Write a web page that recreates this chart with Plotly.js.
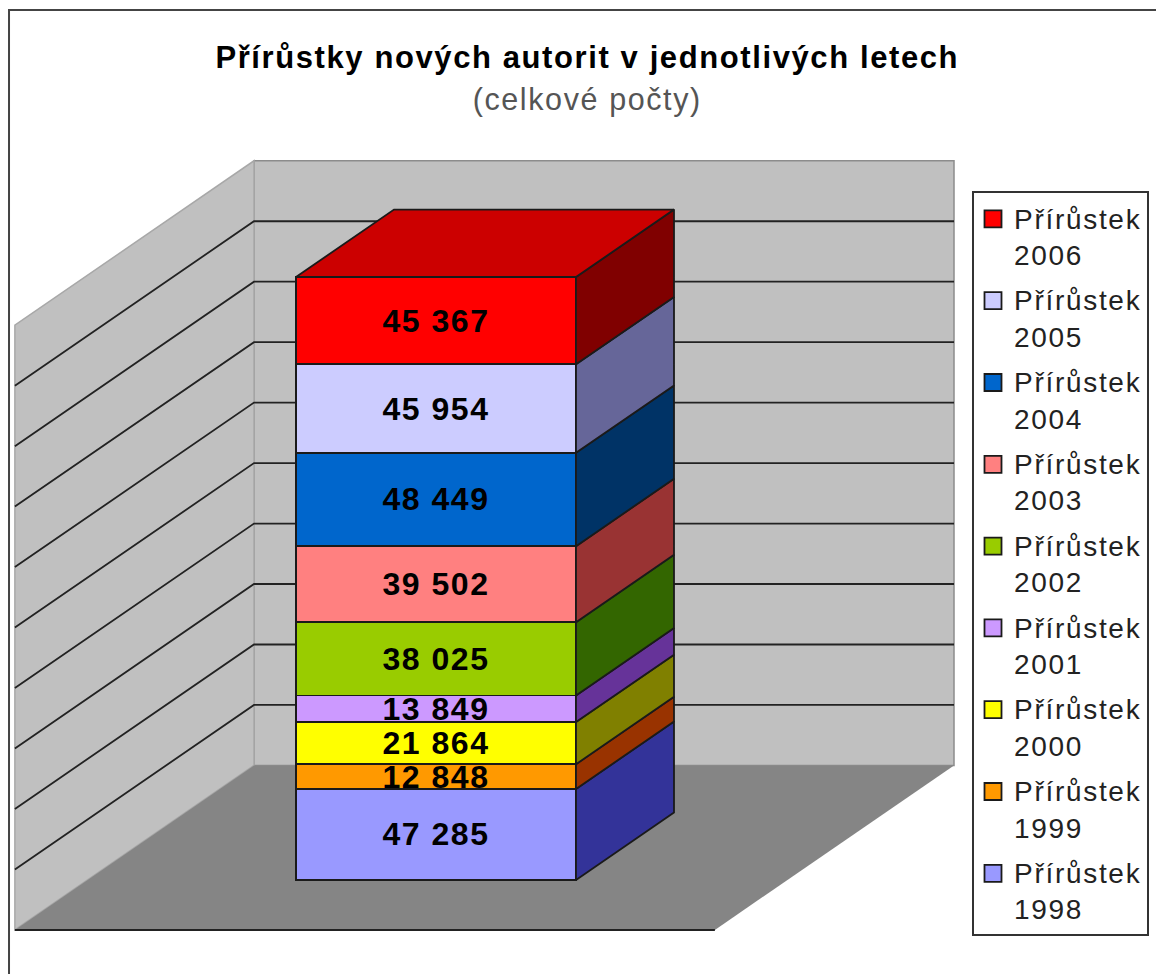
<!DOCTYPE html>
<html>
<head>
<meta charset="utf-8">
<script src="https://cdn.plot.ly/plotly-3.0.1.min.js"></script>
<style>
html,body{margin:0;padding:0;background:#fff;overflow:hidden}
.legendtext{letter-spacing:1.7px}
.gtitle{letter-spacing:1.6px}
.bartext text,text.bartext{letter-spacing:1.5px}
g.legendpoints path{d:path("M7.5,-8.5H-9.5V-25.5H7.5Z")}
</style>
</head>
<body>
<div id="chart" style="width:1156px;height:974px"></div>
<script>
const years = ["1998","1999","2000","2001","2002","2003","2004","2005","2006"];
const increments = [47285,12848,21864,13849,38025,39502,48449,45954,45367];
const frontColors = ["#9999ff","#ff9900","#ffff00","#cc99ff","#99cc00","#ff8080","#0066cc","#ccccff","#ff0000"];
const sideColors = ["#333399","#993300","#808000","#663399","#336600","#993333","#003366","#666699","#800000"];
const topColor = "#cc0000";
const titleText = "Přírůstky nových autorit v jednotlivých letech";
const subtitleText = "(celkové počty)";
const seriesPrefix = "Přírůstek";
const axisMax = 314000;
const gridCount = 10;

// Oblique projection of depth onto the plane of the column's front face
const depthX = 0.35, depthY = 35000;
const wallFront = -0.74, wallBack = 1.70, wallLeft = -1.245, wallRight = 1.255, barHalf = 0.5;
const px = (x, d) => x + d * depthX;
const py = (v, d) => v + d * depthY;
const pathOf = pts => "M" + pts.map(p => px(p[0], p[2]) + "," + py(p[1], p[2])).join("L") + "Z";
const fmt = n => String(n).replace(/\B(?=(\d{3})+$)/g, " ");

const shapes = [];
shapes.push({type:"path",layer:"below",xref:"x",yref:"y",fillcolor:"#c0c0c0",line:{color:"#8c8c8c",width:1.5},
  path:pathOf([[wallLeft,0,wallBack],[wallRight,0,wallBack],[wallRight,axisMax,wallBack],[wallLeft,axisMax,wallBack]])});
shapes.push({type:"path",layer:"below",xref:"x",yref:"y",fillcolor:"#c0c0c0",line:{color:"#a8a8a8",width:1.5},
  path:pathOf([[wallLeft,0,wallFront],[wallLeft,0,wallBack],[wallLeft,axisMax,wallBack],[wallLeft,axisMax,wallFront]])});
shapes.push({type:"path",layer:"below",xref:"x",yref:"y",fillcolor:"#858585",line:{width:0},
  path:pathOf([[wallLeft,0,wallFront],[wallRight,0,wallFront],[wallRight,0,wallBack],[wallLeft,0,wallBack]])});
shapes.push({type:"line",layer:"below",xref:"x",yref:"y",line:{color:"#222",width:2},
  x0:px(wallLeft,wallFront),y0:py(0,wallFront),x1:px(wallRight,wallFront),y1:py(0,wallFront)});
for (let k = 1; k < gridCount; k++) {
  const v = axisMax * k / gridCount;
  shapes.push({type:"path",layer:"below",xref:"x",yref:"y",line:{color:"#222",width:1.8},
    path:"M"+px(wallLeft,wallFront)+","+py(v,wallFront)+"L"+px(wallLeft,wallBack)+","+py(v,wallBack)+"L"+px(wallRight,wallBack)+","+py(v,wallBack)});
}
shapes.push({type:"path",xref:"paper",yref:"paper",line:{color:"#444",width:2},
  path:"M0.0078,0 L0.0078,0.9897 L1,0.9897"});

const edge = {color:"#1a1a1a",width:1.8};
const traces = [];
let base = 0;
years.forEach((yr,i) => {
  traces.push({type:"bar",x:[0],y:[increments[i]],width:[2*barHalf],name:seriesPrefix+"<br>"+yr,legendgroup:yr,
    legendrank:100+years.length-i,
    marker:{color:frontColors[i],line:edge},text:[fmt(increments[i])],textposition:"inside",insidetextanchor:"middle",
    textangle:0,constraintext:"none",insidetextfont:{family:"Liberation Sans, Arial, sans-serif",size:32,color:"#000",weight:700},hoverinfo:"skip"});
});
years.forEach((yr,i) => {
  const lo = base, hi = base + increments[i];
  const side = [[barHalf,lo,0],[barHalf,lo,1],[barHalf,hi,1],[barHalf,hi,0],[barHalf,lo,0]];
  traces.push({type:"scatter",mode:"lines",x:side.map(p=>px(p[0],p[2])),y:side.map(p=>py(p[1],p[2])),
    fill:"toself",fillcolor:sideColors[i],line:edge,showlegend:false,hoverinfo:"skip"});
  base = hi;
});
const topFace = [[-barHalf,base,0],[barHalf,base,0],[barHalf,base,1],[-barHalf,base,1],[-barHalf,base,0]];
traces.push({type:"scatter",mode:"lines",x:topFace.map(p=>px(p[0],p[2])),y:topFace.map(p=>py(p[1],p[2])),
  fill:"toself",fillcolor:topColor,line:edge,showlegend:false,hoverinfo:"skip"});

const layout = {
  width:1156,height:974,autosize:false,margin:{l:0,r:0,t:0,b:0,pad:0},
  paper_bgcolor:"#fff",plot_bgcolor:"rgba(0,0,0,0)",barmode:"stack",showlegend:true,dragmode:false,
  xaxis:{visible:false,range:[-436/280,720/280],fixedrange:true},
  yaxis:{visible:false,range:[-48814,456984],fixedrange:true},
  title:{text:"<b><span style='font-size:31px'>"+titleText+"</span></b><br><span style='font-size:30.5px;color:#555'>"+subtitleText+"</span>",
    x:0.508,xanchor:"center",y:0.9304,yanchor:"middle",
    font:{family:"Liberation Sans, Arial, sans-serif",size:32.3,color:"#000"}},
  legend:{x:972/1156,xanchor:"left",y:1-191/974,yanchor:"top",traceorder:"grouped",tracegroupgap:6,
    bgcolor:"#fff",bordercolor:"#333",borderwidth:2,entrywidth:120,entrywidthmode:"pixels",
    font:{family:"Liberation Sans, Arial, sans-serif",size:28,color:"#222"},
    itemclick:false,itemdoubleclick:false},
  shapes:shapes
};
Plotly.newPlot("chart",traces,layout,{displayModeBar:false,staticPlot:true});
</script>
</body>
</html>
